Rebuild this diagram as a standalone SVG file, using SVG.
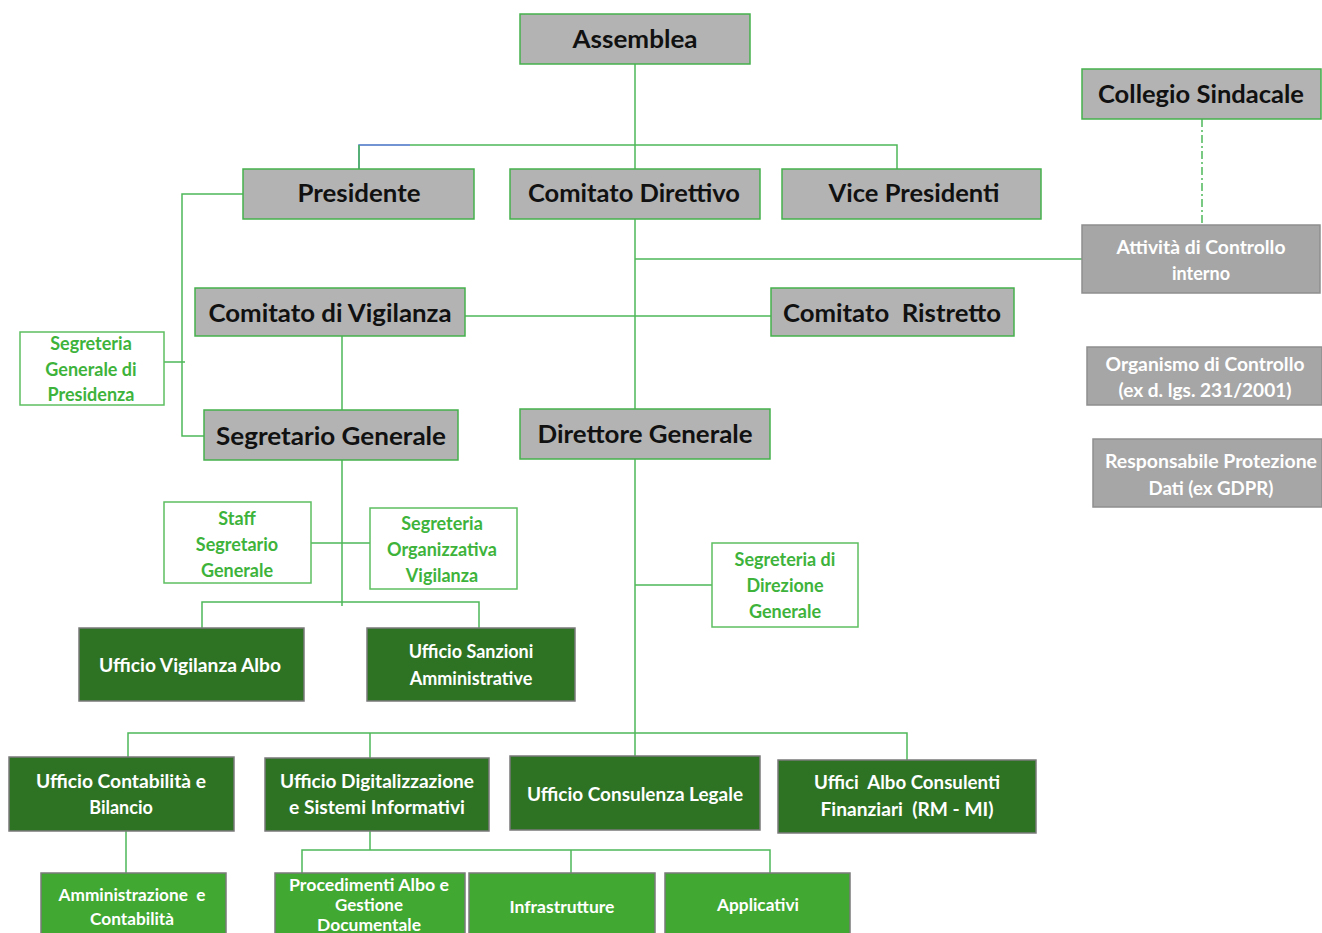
<svg xmlns="http://www.w3.org/2000/svg" width="1322" height="933" viewBox="0 0 1322 933">
<style>
text{font-family:Lato,"Open Sans","Liberation Sans",sans-serif;font-weight:bold;text-anchor:middle;white-space:pre}
.g rect{fill:#b3b3b3;stroke:#45b04d;stroke-width:1.5}
.g text{fill:#111;font-size:24px}
.c rect{fill:#a6a6a6;stroke:#8e8e8e;stroke-width:1.5}
.c text{fill:#fff;font-size:18px}
.w rect{fill:#fff;stroke:#5cbf62;stroke-width:1.5}
.w text{fill:#3eb33b;font-size:18px}
.d rect{fill:#2e7324;stroke:#7a7a7a;stroke-width:1.5}
.d text{fill:#fff;font-size:18px}
.l rect{fill:#41a832;stroke:#7a7a7a;stroke-width:1.5}
.l text{fill:#fff;font-size:17px}
#connectors path{fill:none;stroke:#4fb85a;stroke-width:1.5}
</style>
<rect width="1322" height="933" fill="#fff"/>
<g id="connectors">
<path d="M635 64V409M410 145H897V169M635 259H1082M465 316H771"/>
<path d="M359 169V145H410" style="stroke:#4472c4"/>
<path d="M359 145V169"/>
<path d="M243 194H182V436H204M164 362H185"/>
<path d="M342 336V410M342 460V606M311 543H370M202 628V602H479V628"/>
<path d="M635 585H712M635 459V757M128 757V733H907V760M370 733V758"/>
<path d="M126 831V873M370 831V850M302 873V850H770V873M571 850V873"/>
<path d="M1202 119V225" style="stroke-dasharray:8 3 2 3"/>
</g>
<g id="assemblea" class="g"><rect x="520" y="14" width="230" height="50"/><text x="635" y="48" textLength="125" lengthAdjust="spacingAndGlyphs">Assemblea</text></g>
<g id="presidente" class="g"><rect x="243" y="169" width="231" height="50"/><text x="359" y="202" textLength="123" lengthAdjust="spacingAndGlyphs">Presidente</text></g>
<g id="comitato-direttivo" class="g"><rect x="510" y="169" width="250" height="50"/><text x="634" y="202" textLength="212" lengthAdjust="spacingAndGlyphs">Comitato Direttivo</text></g>
<g id="vice-presidenti" class="g"><rect x="782" y="169" width="259" height="50"/><text x="914" y="202" textLength="171" lengthAdjust="spacingAndGlyphs">Vice Presidenti</text></g>
<g id="collegio-sindacale" class="g"><rect x="1082" y="69" width="239" height="50"/><text x="1201" y="103" textLength="206" lengthAdjust="spacingAndGlyphs">Collegio Sindacale</text></g>
<g id="comitato-vigilanza" class="g"><rect x="195" y="288" width="270" height="48"/><text x="330" y="322" textLength="243" lengthAdjust="spacingAndGlyphs">Comitato di Vigilanza</text></g>
<g id="comitato-ristretto" class="g"><rect x="771" y="288" width="243" height="48"/><text x="892" y="322" textLength="218" lengthAdjust="spacingAndGlyphs">Comitato  Ristretto</text></g>
<g id="segretario-generale" class="g"><rect x="204" y="410" width="254" height="50"/><text x="331" y="445" textLength="230" lengthAdjust="spacingAndGlyphs">Segretario Generale</text></g>
<g id="direttore-generale" class="g"><rect x="520" y="409" width="250" height="50"/><text x="645" y="443" textLength="215" lengthAdjust="spacingAndGlyphs">Direttore Generale</text></g>
<g id="controllo-interno" class="c"><rect x="1082" y="225" width="238" height="68"/><text x="1201" y="254" textLength="169" lengthAdjust="spacingAndGlyphs">Attività di Controllo</text><text x="1201" y="280">interno</text></g>
<g id="organismo-controllo" class="c"><rect x="1087" y="347" width="235" height="58"/><text x="1205" y="371" textLength="199" lengthAdjust="spacingAndGlyphs">Organismo di Controllo</text><text x="1205" y="397" textLength="173" lengthAdjust="spacingAndGlyphs">(ex d. lgs. 231/2001)</text></g>
<g id="protezione-dati" class="c"><rect x="1093" y="439" width="229" height="68"/><text x="1211" y="468" textLength="212" lengthAdjust="spacingAndGlyphs">Responsabile Protezione</text><text x="1211" y="495" textLength="125" lengthAdjust="spacingAndGlyphs">Dati (ex GDPR)</text></g>
<g id="segreteria-presidenza" class="w"><rect x="20" y="332" width="144" height="73"/><text x="91" y="350">Segreteria</text><text x="91" y="376">Generale di</text><text x="91" y="401">Presidenza</text></g>
<g id="staff-segretario" class="w"><rect x="164" y="502" width="147" height="81"/><text x="237" y="525">Staff</text><text x="237" y="551">Segretario</text><text x="237" y="577">Generale</text></g>
<g id="segreteria-vigilanza" class="w"><rect x="370" y="508" width="147" height="81"/><text x="442" y="530">Segreteria</text><text x="442" y="556">Organizzativa</text><text x="442" y="582">Vigilanza</text></g>
<g id="segreteria-direzione" class="w"><rect x="712" y="543" width="146" height="84"/><text x="785" y="566">Segreteria di</text><text x="785" y="592">Direzione</text><text x="785" y="618">Generale</text></g>
<g id="ufficio-vigilanza-albo" class="d"><rect x="79" y="628" width="225" height="73"/><text x="190" y="672" textLength="182" lengthAdjust="spacingAndGlyphs">Ufficio Vigilanza Albo</text></g>
<g id="ufficio-sanzioni" class="d"><rect x="367" y="628" width="208" height="73"/><text x="471" y="658">Ufficio Sanzioni</text><text x="471" y="685">Amministrative</text></g>
<g id="ufficio-contabilita" class="d"><rect x="9" y="757" width="225" height="74"/><text x="121" y="788" textLength="170" lengthAdjust="spacingAndGlyphs">Ufficio Contabilità e</text><text x="121" y="814">Bilancio</text></g>
<g id="ufficio-digitalizzazione" class="d"><rect x="265" y="758" width="224" height="73"/><text x="377" y="788" textLength="194" lengthAdjust="spacingAndGlyphs">Ufficio Digitalizzazione</text><text x="377" y="814" textLength="176" lengthAdjust="spacingAndGlyphs">e Sistemi Informativi</text></g>
<g id="ufficio-consulenza" class="d"><rect x="510" y="756" width="250" height="74"/><text x="635" y="801" textLength="216" lengthAdjust="spacingAndGlyphs">Ufficio Consulenza Legale</text></g>
<g id="uffici-albo" class="d"><rect x="778" y="760" width="258" height="73"/><text x="907" y="789" textLength="186" lengthAdjust="spacingAndGlyphs">Uffici  Albo Consulenti</text><text x="907" y="816" textLength="173" lengthAdjust="spacingAndGlyphs">Finanziari  (RM - MI)</text></g>
<g id="amministrazione" class="l"><rect x="41" y="873" width="185" height="70"/><text x="132" y="901" textLength="147" lengthAdjust="spacingAndGlyphs">Amministrazione  e</text><text x="132" y="925" textLength="84" lengthAdjust="spacingAndGlyphs">Contabilità</text></g>
<g id="procedimenti" class="l"><rect x="275" y="873" width="190" height="70"/><text x="369" y="891" textLength="160" lengthAdjust="spacingAndGlyphs">Procedimenti Albo e</text><text x="369" y="911" textLength="68" lengthAdjust="spacingAndGlyphs">Gestione</text><text x="369" y="931" textLength="104" lengthAdjust="spacingAndGlyphs">Documentale</text></g>
<g id="infrastrutture" class="l"><rect x="469" y="873" width="186" height="70"/><text x="562" y="913" textLength="105" lengthAdjust="spacingAndGlyphs">Infrastrutture</text></g>
<g id="applicativi" class="l"><rect x="665" y="873" width="185" height="70"/><text x="758" y="911" textLength="82" lengthAdjust="spacingAndGlyphs">Applicativi</text></g>
</svg>
